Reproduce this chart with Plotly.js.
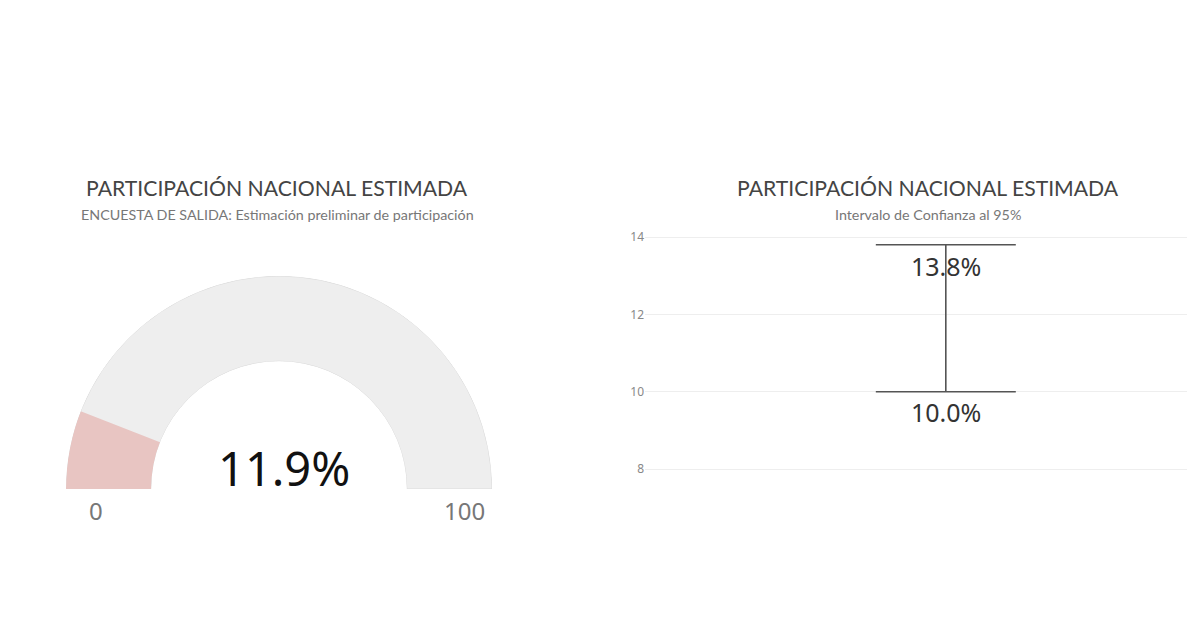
<!DOCTYPE html>
<html>
<head>
<meta charset="utf-8">
<script src="https://cdn.plot.ly/plotly-3.0.1.min.js"></script>
<style>
html,body{margin:0;padding:0;background:#ffffff;}
#chart{width:1200px;height:636px;}
</style>
</head>
<body>
<div id="chart"></div>
<script>
// ---- data ----
var chartTitle = "PARTICIPACIÓN NACIONAL ESTIMADA";
var gaugeSubtitle = "ENCUESTA DE SALIDA: Estimación preliminar de participación";
var intervalSubtitle = "Intervalo de Confianza al 95%";
var gaugeMin = 0;
var gaugeMax = 100;
var turnoutValue = 11.9;
var ciLower = 10.0;
var ciUpper = 13.8;
var yTickVals = [8, 10, 12, 14];

// ---- gauge built with barpolar (angles derived from the values) ----
var degPerUnit = 180 / (gaugeMax - gaugeMin);
var bgTrace = {
  type: 'barpolar',
  r: [1],
  theta: [(gaugeMax - gaugeMin) * degPerUnit / 2],
  width: [(gaugeMax - gaugeMin) * degPerUnit],
  base: [0],
  marker: {color: '#eeeeee', line: {color: '#dddddd', width: 1}},
  hoverinfo: 'skip',
  showlegend: false,
  subplot: 'polar'
};
var valTrace = {
  type: 'barpolar',
  r: [1],
  theta: [(turnoutValue - gaugeMin) * degPerUnit / 2],
  width: [(turnoutValue - gaugeMin) * degPerUnit],
  base: [0],
  marker: {color: '#e8c5c2', line: {color: '#e8c5c2', width: 0}},
  hoverinfo: 'skip',
  showlegend: false,
  subplot: 'polar'
};

// ---- confidence interval ----
var ciTrace = {
  type: 'scatter',
  mode: 'markers',
  x: [0],
  y: [turnoutValue],
  marker: {size: 1, opacity: 0},
  error_y: {
    type: 'data', symmetric: false,
    array: [ciUpper - turnoutValue],
    arrayminus: [turnoutValue - ciLower],
    color: '#555555', thickness: 1.6, width: 70
  },
  xaxis: 'x', yaxis: 'y',
  hoverinfo: 'skip',
  showlegend: false
};

var titleFont = {family: 'Lato, sans-serif', size: 21.2, color: '#444444'};
var subFont = {family: 'Lato, sans-serif', size: 14.3, color: '#777777'};
var ciFont = {family: 'Noto Sans, Open Sans, sans-serif', size: 25, color: '#333333'};

var layout = {
  width: 1200, height: 636,
  margin: {l: 0, r: 0, t: 0, b: 0},
  paper_bgcolor: '#ffffff',
  plot_bgcolor: '#ffffff',
  showlegend: false,
  polar: {
    domain: {x: [66/1200, 492/1200], y: [1 - 489/636, 1 - 276/636]},
    sector: [0, 180],
    hole: 0.6,
    bgcolor: 'rgba(0,0,0,0)',
    radialaxis: {visible: false, range: [0, 1]},
    angularaxis: {visible: false, thetaunit: 'degrees', rotation: 180, direction: 'clockwise'}
  },
  xaxis: {
    domain: [645/1200, 1187/1200],
    range: [-0.555, 0.445],
    showgrid: false, zeroline: false, showticklabels: false, showline: false, ticks: ''
  },
  yaxis: {
    domain: [1 - 484.5/636, 1 - 229.3/636],
    range: [7.6, 14.2],
    tickvals: yTickVals,
    ticktext: yTickVals.map(String),
    showgrid: true, gridcolor: '#eeeeee', gridwidth: 1,
    zeroline: false, showline: false, ticks: '',
    tickfont: {family: 'Noto Sans, sans-serif', size: 12, color: '#888888'}
  },
  annotations: [
    {text: chartTitle, xref: 'paper', yref: 'paper', x: 277/1200, y: 1 - 188/636,
     xanchor: 'center', yanchor: 'middle', showarrow: false, font: titleFont},
    {text: gaugeSubtitle, xref: 'paper', yref: 'paper', x: 277/1200, y: 1 - 214/636,
     xanchor: 'center', yanchor: 'middle', showarrow: false, font: subFont},
    {text: chartTitle, xref: 'paper', yref: 'paper', x: 928/1200, y: 1 - 188/636,
     xanchor: 'center', yanchor: 'middle', showarrow: false, font: titleFont},
    {text: intervalSubtitle, xref: 'paper', yref: 'paper', x: 928/1200, y: 1 - 214/636,
     xanchor: 'center', yanchor: 'middle', showarrow: false, font: subFont},
    {text: ciUpper.toFixed(1) + '%', xref: 'x', yref: 'y', x: 0, y: ciUpper,
     xanchor: 'center', yanchor: 'top', yshift: -2, showarrow: false, font: ciFont},
    {text: ciLower.toFixed(1) + '%', xref: 'x', yref: 'y', x: 0, y: ciLower,
     xanchor: 'center', yanchor: 'top', yshift: -1, showarrow: false, font: ciFont},
    {text: turnoutValue.toFixed(1) + '%', xref: 'paper', yref: 'paper', x: 284/1200, y: 1 - 468/636,
     xanchor: 'center', yanchor: 'middle', showarrow: false,
     font: {family: 'Noto Sans, Open Sans, sans-serif', size: 47, color: '#111111'}},
    {text: String(gaugeMin), xref: 'paper', yref: 'paper', x: 96/1200, y: 1 - 510/636,
     xanchor: 'center', yanchor: 'middle', showarrow: false,
     font: {family: 'Noto Sans, Open Sans, sans-serif', size: 24, color: '#777777'}},
    {text: String(gaugeMax), xref: 'paper', yref: 'paper', x: 464/1200, y: 1 - 510/636,
     xanchor: 'center', yanchor: 'middle', showarrow: false,
     font: {family: 'Noto Sans, Open Sans, sans-serif', size: 24, color: '#777777'}}
  ]
};

Plotly.newPlot('chart', [bgTrace, valTrace, ciTrace], layout, {displayModeBar: false, staticPlot: true});
</script>
</body>
</html>
